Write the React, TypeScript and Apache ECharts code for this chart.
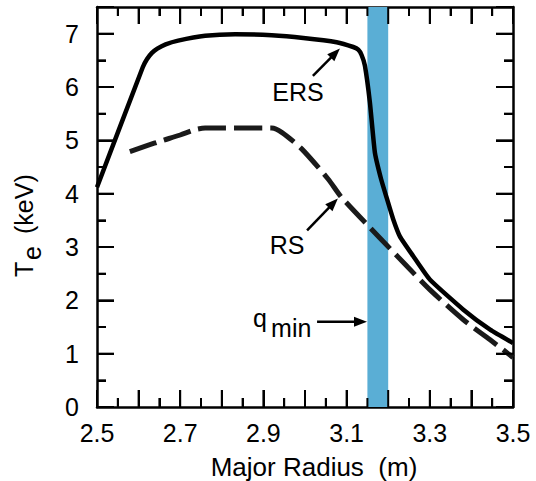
import React, { useEffect, useRef } from "react";
import * as echarts from "echarts";

// ---- data ----
const ersRadius = [2.5, 2.61, 2.62, 2.632, 2.645, 2.665, 2.695, 2.76, 2.832, 2.92, 2.996, 3.076, 3.116, 3.128, 3.136, 3.144, 3.156, 3.168, 3.183, 3.196, 3.212, 3.228, 3.26, 3.3, 3.38, 3.445, 3.5];
const ersTe = [4.12, 6.37, 6.52, 6.64, 6.72, 6.8, 6.87, 6.96, 6.99, 6.97, 6.92, 6.84, 6.75, 6.7, 6.6, 6.4, 5.71, 4.77, 4.27, 3.93, 3.52, 3.2, 2.83, 2.39, 1.83, 1.45, 1.2];

const rsRadius = [2.579, 2.62, 2.655, 2.7, 2.736, 2.76, 2.92, 2.944, 2.992, 3.056, 3.088, 3.18, 3.24, 3.3, 3.38, 3.445, 3.5];
const rsTe = [4.79, 4.9, 4.99, 5.1, 5.2, 5.23, 5.23, 5.15, 4.84, 4.27, 3.93, 3.17, 2.68, 2.2, 1.64, 1.26, 0.93];

const qminBand = [3.15, 3.2];

const xRange = [2.5, 3.5];
const yRange = [0, 7.5];

// tick positions (major ones are multiples of 0.1 on x and integers on y)
const xTickValues = [2.5, 2.55, 2.6, 2.65, 2.7, 2.75, 2.8, 2.85, 2.9, 2.95, 3.0, 3.05, 3.1, 3.15, 3.2, 3.25, 3.3, 3.35, 3.4, 3.45, 3.5];
const yTickValues = [0, 0.5, 1, 1.5, 2, 2.5, 3, 3.5, 4, 4.5, 5, 5.5, 6, 6.5, 7];

// annotations in data coordinates
const ersLabel = { text: "ERS", at: [2.983, 5.91] };
const ersArrow = [[3.019, 6.21], [3.084, 6.72]];
const rsLabel = { text: "RS", at: [2.957, 3.03] };
const rsArrow = [[3.005, 3.31], [3.079, 3.91]];
const qminArrow = [[3.029, 1.6], [3.149, 1.6]];

const FONT = "Liberation Sans, Arial, Helvetica, sans-serif";
const MAJOR_LEN = 17;
const MINOR_LEN = 9;
const GRID = { left: 97, right: 23, top: 7, bottom: 74 };
const W = 536;
const H = 481;

function zip(a: number[], b: number[]) {
  return a.map((v, i) => [v, b[i]]);
}

// pixel mapping mirroring the grid (used only for annotations)
const plotW = W - GRID.left - GRID.right;
const plotH = H - GRID.top - GRID.bottom;
const toPx = (p: number[]) => [
  GRID.left + ((p[0] - xRange[0]) / (xRange[1] - xRange[0])) * plotW,
  GRID.top + plotH - ((p[1] - yRange[0]) / (yRange[1] - yRange[0])) * plotH,
];

function arrowEls(p0: number[], p1: number[], headLen = 13, headW = 10) {
  const dx = p1[0] - p0[0];
  const dy = p1[1] - p0[1];
  const L = Math.hypot(dx, dy);
  const ux = dx / L, uy = dy / L;
  const bx = p1[0] - ux * headLen, by = p1[1] - uy * headLen;
  const nx = -uy, ny = ux;
  return [
    { type: "line", shape: { x1: p0[0], y1: p0[1], x2: bx + ux * 2, y2: by + uy * 2 }, style: { stroke: "#000", lineWidth: 2.5 }, z: 20 },
    {
      type: "polygon",
      shape: { points: [[p1[0], p1[1]], [bx + (nx * headW) / 2, by + (ny * headW) / 2], [bx - (nx * headW) / 2, by - (ny * headW) / 2]] },
      style: { fill: "#000" },
      z: 20,
    },
  ];
}

function textEl(text: string, x: number, y: number, size: number, align = "left") {
  return {
    type: "text",
    x,
    y,
    z: 20,
    style: {
      text,
      font: `${size}px ${FONT}`,
      fill: "#000",
      align,
      textAlign: align,
      verticalAlign: "middle",
      textVerticalAlign: "middle",
    },
  };
}

const isMajorX = (v: number) => Math.abs(v * 10 - Math.round(v * 10)) < 1e-6;
const isMajorY = (v: number) => Math.abs(v - Math.round(v)) < 1e-6;

export default function App() {
  const ref = useRef<HTMLDivElement>(null);
  useEffect(() => {
    document.body.style.margin = "0";
    if (!ref.current) return;
    const chart = echarts.init(ref.current, undefined, { renderer: "svg" });

    const ersL = toPx(ersLabel.at);
    const rsL = toPx(rsLabel.at);
    const qA0 = toPx(qminArrow[0]);
    const qA1 = toPx(qminArrow[1]);

    const graphic: any[] = [
      textEl(ersLabel.text, ersL[0], ersL[1], 25, "center"),
      ...arrowEls(toPx(ersArrow[0]), toPx(ersArrow[1])),
      textEl(rsLabel.text, rsL[0], rsL[1], 25, "center"),
      ...arrowEls(toPx(rsArrow[0]), toPx(rsArrow[1])),
      ...arrowEls(qA0, qA1),
      textEl("q", qA0[0] - 64, qA0[1] - 4, 25, "left"),
      textEl("min", qA0[0] - 46, qA0[1] + 6, 25, "left"),
      textEl("Major Radius  (m)", GRID.left + plotW / 2 + 9, 467, 26, "center"),
      {
        type: "group",
        x: 24,
        y: 277,
        rotation: Math.PI / 2,
        children: [
          textEl("T", 0, 0, 25, "left"),
          textEl("e", 17, 8, 25, "left"),
          textEl("(keV)", 43, 0, 25, "left"),
        ],
      },
    ];

    const xAx = (position: string, labels: boolean) => ({
      type: "value",
      position,
      min: xRange[0],
      max: xRange[1],
      interval: 0.1,
      axisLine: { show: true, onZero: false, lineStyle: { color: "#000", width: 2.5 } },
      axisTick: { show: true, inside: true, length: MAJOR_LEN, lineStyle: { color: "#000", width: 2 } },
      minorTick: { show: true, splitNumber: 2, length: MINOR_LEN, lineStyle: { color: "#000", width: 2 } },
      axisLabel: {
        show: labels,
        fontSize: 25,
        fontFamily: FONT,
        color: "#000",
        margin: 13,
        formatter: (v: number) => (Math.round(v * 10) % 2 === 1 ? v.toFixed(1) : ""),
      },
      splitLine: { show: false },
      minorSplitLine: { show: false },
    });
    const yAx = (position: string, labels: boolean) => ({
      type: "value",
      position,
      min: yRange[0],
      max: yRange[1],
      interval: 1,
      axisLine: { show: true, onZero: false, lineStyle: { color: "#000", width: 2.5 } },
      axisTick: { show: true, inside: true, length: MAJOR_LEN, lineStyle: { color: "#000", width: 2 } },
      minorTick: { show: true, splitNumber: 2, length: MINOR_LEN, lineStyle: { color: "#000", width: 2 } },
      axisLabel: {
        show: labels,
        fontSize: 25,
        fontFamily: FONT,
        color: "#000",
        margin: 18,
        formatter: (v: number) => (isMajorY(v) ? String(Math.round(v)) : ""),
      },
      splitLine: { show: false },
      minorSplitLine: { show: false },
    });

    chart.setOption({
      animation: false,
      grid: {
        left: GRID.left,
        right: GRID.right,
        top: GRID.top,
        bottom: GRID.bottom,
        outerBoundsMode: "none",
      },
      xAxis: [xAx("bottom", true), xAx("top", false)],
      yAxis: [yAx("left", true), yAx("right", false)],
      graphic,
      series: [
        {
          type: "line",
          data: [],
          z: 1,
          markArea: {
            silent: true,
            itemStyle: { color: "#5aaed5" },
            data: [[{ xAxis: qminBand[0] }, { xAxis: qminBand[1] }]],
          },
        },
        {
          name: "ERS",
          type: "line",
          data: zip(ersRadius, ersTe),
          showSymbol: false,
          symbol: "none",
          smooth: 0.15,
          clip: false,
          lineStyle: { color: "#000", width: 4.5 },
          z: 6,
        },
        {
          name: "RS",
          type: "line",
          data: zip(rsRadius, rsTe),
          showSymbol: false,
          symbol: "none",
          smooth: 0.25,
          clip: false,
          lineStyle: { color: "#1a1a1a", width: 5, type: [28, 8] },
          z: 6,
        },
        // x-axis ticks (bottom and top, pointing inward)
        {
          type: "custom",
          clip: false,
          z: 8,
          data: xTickValues.map((v) => [v, yRange[0]]),
          renderItem: (p: any, api: any) => {
            const v = api.value(0);
            const b = api.coord([v, yRange[0]]);
            const t = api.coord([v, yRange[1]]);
            const len = isMajorX(v) ? MAJOR_LEN : MINOR_LEN;
            return {
              type: "group",
              children: [
                { type: "line", shape: { x1: b[0], y1: b[1], x2: b[0], y2: b[1] - len }, style: { stroke: "#000", lineWidth: 2 } },
                { type: "line", shape: { x1: t[0], y1: t[1], x2: t[0], y2: t[1] + len }, style: { stroke: "#000", lineWidth: 2 } },
              ],
            };
          },
        },
        // y-axis ticks (left and right, pointing inward)
        {
          type: "custom",
          clip: false,
          z: 8,
          data: yTickValues.map((v) => [xRange[0], v]),
          renderItem: (p: any, api: any) => {
            const v = api.value(1);
            const l = api.coord([xRange[0], v]);
            const r = api.coord([xRange[1], v]);
            const len = isMajorY(v) ? MAJOR_LEN : MINOR_LEN;
            return {
              type: "group",
              children: [
                { type: "line", shape: { x1: l[0], y1: l[1], x2: l[0] + len, y2: l[1] }, style: { stroke: "#000", lineWidth: 2 } },
                { type: "line", shape: { x1: r[0], y1: r[1], x2: r[0] - len, y2: r[1] }, style: { stroke: "#000", lineWidth: 2 } },
              ],
            };
          },
        },
      ],
    });

    return () => chart.dispose();
  }, []);
  return <div ref={ref} style={{ width: W, height: H }} />;
}
